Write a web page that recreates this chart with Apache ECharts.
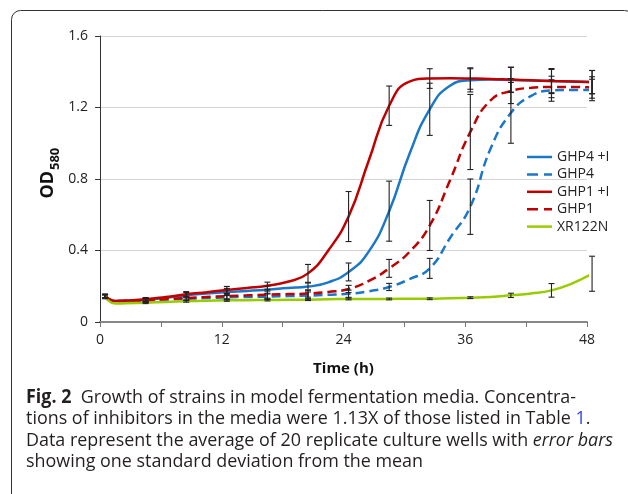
<!DOCTYPE html>
<html>
<head>
<meta charset="utf-8">
<script src="https://cdn.jsdelivr.net/npm/echarts@6/dist/echarts.min.js"></script>
<style>
html,body{margin:0;padding:0;background:#fff;}
#c{width:628px;height:494px;}
</style>
</head>
<body>
<div id="c"></div>
<script>
// ---- data ----
const times = [0.5, 1.5, 2.5, 4.5, 6.5, 8.5, 10.5, 12.5, 14.5, 16.5, 18.5, 20.5, 22.5, 24.5, 26.5, 28.5, 30.5, 32.5, 34.5, 36.5, 38.5, 40.5, 42.5, 44.5, 46.5, 48.5];
const ghp4I  = [0.145, 0.117, 0.118, 0.123, 0.135, 0.150, 0.160, 0.168, 0.174, 0.181, 0.190, 0.198, 0.222, 0.280, 0.395, 0.620, 0.940, 1.190, 1.322, 1.352, 1.356, 1.354, 1.351, 1.348, 1.345, 1.342];
const ghp4   = [0.145, 0.117, 0.117, 0.120, 0.125, 0.130, 0.134, 0.138, 0.140, 0.142, 0.145, 0.148, 0.152, 0.158, 0.172, 0.196, 0.240, 0.300, 0.470, 0.645, 0.970, 1.170, 1.265, 1.295, 1.298, 1.298];
const ghp1I  = [0.145, 0.118, 0.120, 0.127, 0.140, 0.155, 0.167, 0.179, 0.190, 0.203, 0.225, 0.272, 0.400, 0.590, 0.905, 1.210, 1.345, 1.362, 1.363, 1.362, 1.360, 1.356, 1.352, 1.348, 1.345, 1.342];
const ghp1   = [0.145, 0.117, 0.118, 0.122, 0.128, 0.134, 0.140, 0.145, 0.149, 0.153, 0.156, 0.159, 0.168, 0.185, 0.230, 0.300, 0.392, 0.540, 0.793, 1.063, 1.240, 1.292, 1.310, 1.315, 1.315, 1.312];
const xr122n = [0.140, 0.103, 0.105, 0.108, 0.112, 0.116, 0.119, 0.121, 0.122, 0.123, 0.124, 0.125, 0.127, 0.129, 0.129, 0.129, 0.130, 0.130, 0.133, 0.136, 0.140, 0.149, 0.159, 0.177, 0.215, 0.270];

// error bars (one standard deviation) at these times
const errTimes = [0.5, 4.5, 8.5, 12.5, 16.5, 20.5, 24.5, 28.5, 32.5, 36.5, 40.5, 44.5, 48.5];
const sdGhp4I  = [0.010, 0.010, 0.015, 0.020, 0.020, 0.020, 0.050, 0.168, 0.146, 0.065, 0.070, 0.070, 0.065];
const sdGhp4   = [0.010, 0.010, 0.010, 0.015, 0.015, 0.020, 0.020, 0.020, 0.056, 0.155, 0.170, 0.060, 0.060];
const sdGhp1I  = [0.010, 0.010, 0.015, 0.020, 0.020, 0.050, 0.140, 0.110, 0.055, 0.060, 0.070, 0.065, 0.065];
const sdGhp1   = [0.010, 0.010, 0.010, 0.015, 0.020, 0.020, 0.020, 0.050, 0.140, 0.210, 0.070, 0.060, 0.060];
const sdXr122n = [0.010, 0.005, 0.005, 0.005, 0.005, 0.005, 0.005, 0.005, 0.005, 0.005, 0.012, 0.038, 0.098];

const seriesNames = ['GHP4 +I', 'GHP4', 'GHP1 +I', 'GHP1', 'XR122N'];
const xTickLabels = ['0', '12', '24', '36', '48'];
const yTickLabels = ['0', '0.4', '0.8', '1.2', '1.6'];

const captionLines = [
  ['Fig. 2', '  Growth of strains in model fermentation media. Concentra-'],
  ['tions of inhibitors in the media were 1.13X of those listed in Table ', '1', '.'],
  ['Data represent the average of 20 replicate culture wells with ', 'error bars'],
  ['showing one standard deviation from the mean']
];

// ---- build ----
const BLUE = '#1b78c8', RED = '#c00000', GREEN = '#99cc00';
const SOLID_ICON = 'path://M0,0H25V2.5H0Z';
const DASH_ICON = 'path://M0,0H11V2.5H0ZM17,0H25V2.5H17Z';
const lineDefs = [
  {name: seriesNames[0], vals: ghp4I, sd: sdGhp4I, color: BLUE, dash: 'solid', icon: SOLID_ICON},
  {name: seriesNames[1], vals: ghp4, sd: sdGhp4, color: BLUE, dash: [9, 5], icon: DASH_ICON},
  {name: seriesNames[2], vals: ghp1I, sd: sdGhp1I, color: RED, dash: 'solid', icon: SOLID_ICON},
  {name: seriesNames[3], vals: ghp1, sd: sdGhp1, color: RED, dash: [9, 5], icon: DASH_ICON},
  {name: seriesNames[4], vals: xr122n, sd: sdXr122n, color: GREEN, dash: 'solid', icon: SOLID_ICON}
];

const errData = [];
lineDefs.forEach(d => {
  errTimes.forEach((t, i) => {
    const v = d.vals[times.indexOf(t)];
    errData.push([t, v - d.sd[i], v + d.sd[i]]);
  });
});

const series = lineDefs.map(d => ({
  name: d.name,
  type: 'line',
  data: times.map((t, i) => [t, d.vals[i]]),
  smooth: 0.5,
  symbol: 'none',
  showSymbol: false,
  lineStyle: {color: d.color, width: 2.5, type: d.dash},
  itemStyle: {color: d.color},
  z: 2
}));
series.push({
  type: 'custom',
  data: errData,
  encode: {x: 0, y: [1, 2]},
  z: 5,
  renderItem: function (params, api) {
    const x = api.value(0);
    const lo = api.coord([x, api.value(1)]);
    const hi = api.coord([x, api.value(2)]);
    const w = 3;
    const st = {stroke: '#222', lineWidth: 1.1};
    return {
      type: 'group',
      children: [
        {type: 'line', shape: {x1: lo[0], y1: lo[1], x2: hi[0], y2: hi[1]}, style: st},
        {type: 'line', shape: {x1: lo[0] - w, y1: lo[1], x2: lo[0] + w, y2: lo[1]}, style: st},
        {type: 'line', shape: {x1: hi[0] - w, y1: hi[1], x2: hi[0] + w, y2: hi[1]}, style: st}
      ]
    };
  }
});

// caption scaling to mimic the narrow caption face
const CAP_FONT = 'Open Sans';
const CAP_SIZE = 19;
const cv = document.createElement('canvas').getContext('2d');
cv.font = CAP_SIZE + 'px "' + CAP_FONT + '"';
const w3 = cv.measureText(captionLines[2].join('')).width;
const capScale = 591 / w3;

function richLine(parts, idx) {
  if (idx === 0) return '{b|' + parts[0] + '}' + parts[1];
  if (idx === 1) return parts[0] + '{l|' + parts[1] + '}' + parts[2];
  if (idx === 2) return parts[0] + '{i|' + parts[1] + '}';
  return parts[0];
}
const capY = [397.5, 419, 440.5, 462];
const graphics = [
  {type: 'rect', shape: {x: 11.5, y: 10.5, width: 622, height: 520, r: 9},
   style: {fill: 'none', stroke: '#333', lineWidth: 1}, silent: true},
  {type: 'text', x: 48, y: 198.5, rotation: Math.PI / 2,
   style: {text: 'OD', font: 'bold 18px "Open Sans"', fill: '#111', textAlign: 'left', textVerticalAlign: 'middle'}},
  {type: 'text', x: 55, y: 170, rotation: Math.PI / 2,
   style: {text: '580', font: 'bold 13px "Open Sans"', fill: '#111', textAlign: 'left', textVerticalAlign: 'middle'}}
];
captionLines.forEach((parts, i) => {
  graphics.push({
    type: 'text', x: 26, y: capY[i], scaleX: capScale,
    style: {
      text: richLine(parts, i),
      fontFamily: CAP_FONT, fontSize: CAP_SIZE, fill: '#231f20',
      textAlign: 'left', textVerticalAlign: 'middle',
      rich: {
        b: {fontFamily: CAP_FONT, fontSize: CAP_SIZE, fontWeight: 'bold', fill: '#231f20'},
        l: {fontFamily: CAP_FONT, fontSize: CAP_SIZE, fill: '#3344dd'},
        i: {fontFamily: CAP_FONT, fontSize: CAP_SIZE, fontStyle: 'italic', fill: '#231f20'}
      }
    }
  });
});

const chart = echarts.init(document.getElementById('c'), null, {renderer: 'canvas'});
chart.setOption({
  animation: false,
  backgroundColor: '#fff',
  grid: {left: 100, right: 41, top: 36, bottom: 172, containLabel: false},
  legend: {
    data: lineDefs.map(d => ({name: d.name, icon: d.icon})),
    orient: 'vertical',
    left: 527, top: 150,
    itemWidth: 25, itemHeight: 2.5, itemGap: 3.4,
    padding: 0,
    textStyle: {fontFamily: 'Open Sans', fontSize: 14, color: '#222'}
  },
  xAxis: {
    type: 'value', min: 0, max: 48, interval: 6,
    name: 'Time (h)', nameLocation: 'middle', nameGap: 39,
    nameTextStyle: {fontFamily: 'Open Sans', fontSize: 15, fontWeight: 'bold', color: '#111'},
    axisLine: {show: true, lineStyle: {color: '#888', width: 2}},
    axisTick: {show: true, length: 5, lineStyle: {color: '#777', width: 1}},
    axisLabel: {
      margin: 11, fontFamily: 'Open Sans', fontSize: 14, color: '#222',
      formatter: v => (v % 12 === 0 ? xTickLabels[v / 12] : '')
    },
    splitLine: {show: false}
  },
  yAxis: {
    type: 'value', min: 0, max: 1.6, interval: 0.4,
    axisLine: {show: true, lineStyle: {color: '#333', width: 1}},
    axisTick: {show: true, length: 5, lineStyle: {color: '#333'}},
    axisLabel: {
      margin: 12, fontFamily: 'Open Sans', fontSize: 14, color: '#222',
      formatter: v => yTickLabels[Math.round(v / 0.4)]
    },
    splitLine: {show: true, lineStyle: {color: '#d4d4d4', width: 1}}
  },
  series: series,
  graphic: graphics
});
</script>
</body>
</html>
